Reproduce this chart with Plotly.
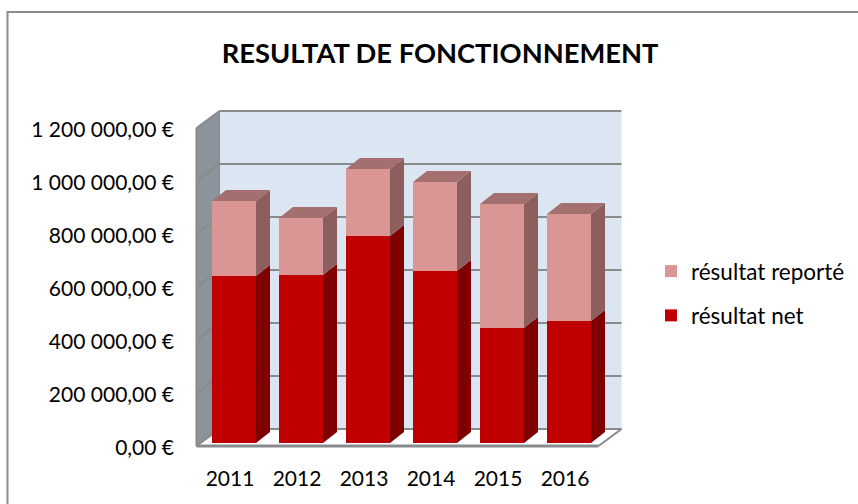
import plotly.graph_objects as go

years = ["2011", "2012", "2013", "2014", "2015", "2016"]
resultat_net = [630000, 634000, 781000, 649000, 434000, 460000]
resultat_reporte = [283000, 215000, 253000, 336000, 468000, 404000]
tick_values = [0, 200000, 400000, 600000, 800000, 1000000, 1200000]
tick_labels = ["0,00 €", "200 000,00 €", "400 000,00 €", "600 000,00 €",
               "800 000,00 €", "1 000 000,00 €", "1 200 000,00 €"]

W, H = 858, 504
L, R, T, B = 190, 630, 100, 450       # plot area in the page
X_PX = 67.0                           # pixels per category
Y_PX = 265e-6                         # pixels per euro
X0_PX, Y0_PX = 234.0, 443.0           # where category 0 / value 0 land

def dx(p): return p / X_PX
def dy(p): return p / Y_PX

BAR_W = 44 / X_PX
BAR_DX, BAR_DY = dx(14), dy(11)       # bar depth
F_DX, F_DY = dx(-4), dy(-3)           # front of the box vs bar plane
K_DX, K_DY = dx(19), dy(14)           # back of the box vs bar plane
LABEL_DY = dy(-4.5)                   # tick labels sit just below the front plane
XL, XR = -0.5, 5.5
GREY = "#888a8c"

xs = list(range(len(years)))
totals = [a + b for a, b in zip(resultat_net, resultat_reporte)]

fig = go.Figure()

def side_polys(bases, tops):
    px, py = [], []
    for i, b, t in zip(xs, bases, tops):
        r = i + BAR_W / 2
        px += [r, r + BAR_DX, r + BAR_DX, r, r, None]
        py += [b, b + BAR_DY, t + BAR_DY, t, b, None]
    return px, py

def top_polys(tops):
    px, py = [], []
    for i, t in zip(xs, tops):
        l, r = i - BAR_W / 2, i + BAR_W / 2
        px += [l, r, r + BAR_DX, l + BAR_DX, l, None]
        py += [t, t, t + BAR_DY, t + BAR_DY, t, None]
    return px, py

def face(px, py, color):
    fig.add_trace(go.Scatter(x=px, y=py, mode="lines", fill="toself", fillcolor=color,
                             line=dict(width=0, color=color), showlegend=False, hoverinfo="skip"))

fig.add_trace(go.Bar(x=xs, y=resultat_reporte, base=resultat_net, width=BAR_W, name="résultat reporté",
                     marker=dict(color="#d99694", line=dict(width=0)), legendgroup="b"))
fig.add_trace(go.Bar(x=xs, y=resultat_net, width=BAR_W, name="résultat net",
                     marker=dict(color="#c00000", line=dict(width=0)), legendgroup="a"))

face(*side_polys([0] * len(xs), resultat_net), "#7f0000")
face(*side_polys(resultat_net, totals), "#8c5f5e")
face(*top_polys(totals), "#a3706f")

shapes = []
def poly(points, fill, line_w=0):
    d = "M " + " L ".join(f"{x},{y}" for x, y in points) + " Z"
    shapes.append(dict(type="path", path=d, xref="x", yref="y", layer="below",
                       fillcolor=fill, line=dict(width=line_w, color=GREY)))
def seg(x0, y0, x1, y1, w=2):
    shapes.append(dict(type="line", x0=x0, y0=y0, x1=x1, y1=y1, xref="x", yref="y",
                       layer="below", line=dict(color=GREY, width=w)))

vmax = tick_values[-1]
# back wall, left wall, floor
poly([(XL + K_DX, K_DY), (XR + K_DX, K_DY), (XR + K_DX, vmax + K_DY), (XL + K_DX, vmax + K_DY)], "#dce6f2")
poly([(XL + F_DX, F_DY), (XL + K_DX, K_DY), (XL + K_DX, vmax + K_DY), (XL + F_DX, vmax + F_DY)], "#8b939b")
poly([(XL + F_DX, F_DY), (XR + F_DX, F_DY), (XR + K_DX, K_DY), (XL + K_DX, K_DY)], "#ffffff")
for v in tick_values:
    seg(XL + K_DX, v + K_DY, XR + K_DX, v + K_DY)
    seg(XL + F_DX, v + F_DY, XL + K_DX, v + K_DY)
seg(XL + F_DX, F_DY, XL + F_DX, vmax + F_DY, 2)
seg(XL + K_DX, K_DY, XL + K_DX, vmax + K_DY, 1)
seg(XL + F_DX, F_DY, XR + F_DX, F_DY, 3)
seg(XR + F_DX, F_DY, XR + K_DX, K_DY, 2)

# chart frame (open on the right and bottom as in the picture)
PW, PH = R - L, B - T
shapes.append(dict(type="path", xref="paper", yref="paper", layer="below", fillcolor="rgba(0,0,0,0)",
                   line=dict(color="#8c8c8c", width=2),
                   path=f"M {(7.5-L)/PW},{(B-520)/PH} L {(7.5-L)/PW},{(B-12)/PH} L {(870-L)/PW},{(B-12)/PH}"))

font = "Lato, Carlito, Calibri, sans-serif"
fig.update_layout(
    width=W, height=H, autosize=False, paper_bgcolor="white", plot_bgcolor="rgba(0,0,0,0)",
    barmode="overlay", shapes=shapes, font=dict(family=font, size=21, color="#000000"),
    margin=dict(l=L, r=W - R, t=T, b=H - B, pad=0),
    title=dict(text="<b>RESULTAT DE FONCTIONNEMENT</b>", x=440 / W, xanchor="center",
               y=1 - 53 / H, yanchor="middle", font=dict(family=font, size=27.3, color="#000000")),
    xaxis=dict(range=[(L - X0_PX) / X_PX, (R - X0_PX) / X_PX], tickmode="array",
               tickvals=[i + F_DX for i in xs], ticktext=years, showgrid=False, zeroline=False,
               showline=False, ticks="", ticklabelstandoff=14, fixedrange=True),
    yaxis=dict(range=[(Y0_PX - B) / Y_PX, (Y0_PX - T) / Y_PX], tickmode="array",
               tickvals=[v + LABEL_DY for v in tick_values], ticktext=tick_labels, showgrid=False,
               zeroline=False, showline=False, ticks="", ticklabelstandoff=15, fixedrange=True),
    legend=dict(x=651 / W, xref="container", y=1 - 250 / H, yref="container", xanchor="left", yanchor="top",
                traceorder="grouped", tracegroupgap=12, font=dict(family=font, size=22.5),
                bgcolor="rgba(0,0,0,0)", itemclick=False, itemdoubleclick=False),
)
fig.write_html("out.html", post_script="document.body.style.margin='0';",
               config={"displayModeBar": False})
